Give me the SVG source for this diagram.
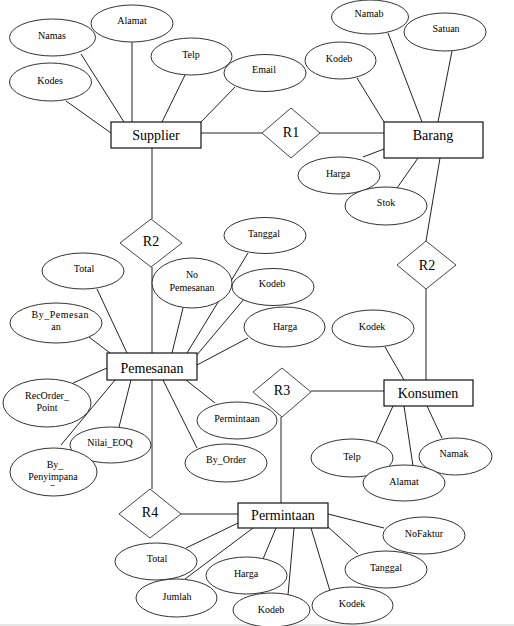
<svg xmlns="http://www.w3.org/2000/svg" width="514" height="626" viewBox="0 0 514 626">
<style>
.ln{stroke:#222;stroke-width:1;fill:none}
.at{fill:#fff;stroke:#333;stroke-width:1}
.en{fill:#fff;stroke:#111;stroke-width:1.2}
.rl{fill:#fff;stroke:#444;stroke-width:1}
.ta{font-family:"Liberation Serif","Times New Roman",serif;font-size:10px;fill:#000;text-anchor:middle}
.te{font-family:"Liberation Serif","Times New Roman",serif;font-size:14px;fill:#000;text-anchor:middle}
</style>
<defs>
<clipPath id="cp"><rect x="0" y="440" width="120" height="46"/></clipPath>
</defs>
<rect x="0" y="0" width="514" height="626" fill="#fff"/>
<rect x="0" y="624" width="514" height="2" fill="#e6e6e6"/>
<g id="connectors">
<line class="ln" x1="81" y1="54" x2="124" y2="122"/>
<line class="ln" x1="132" y1="42" x2="132" y2="122"/>
<line class="ln" x1="66" y1="101" x2="111" y2="133"/>
<line class="ln" x1="185" y1="75" x2="162" y2="122"/>
<line class="ln" x1="235" y1="87" x2="201" y2="122"/>
<line class="ln" x1="201" y1="133" x2="262" y2="133"/>
<line class="ln" x1="320" y1="133" x2="384" y2="133"/>
<line class="ln" x1="152" y1="148" x2="152" y2="219"/>
<line class="ln" x1="152" y1="267" x2="152" y2="353"/>
<line class="ln" x1="357" y1="78" x2="384" y2="122"/>
<line class="ln" x1="388" y1="33" x2="422" y2="122"/>
<line class="ln" x1="452" y1="51" x2="438" y2="122"/>
<line class="ln" x1="363" y1="157" x2="384" y2="149"/>
<line class="ln" x1="397" y1="188" x2="418" y2="158"/>
<line class="ln" x1="440" y1="158" x2="426" y2="241"/>
<line class="ln" x1="426" y1="289" x2="426" y2="380"/>
<line class="ln" x1="385" y1="347" x2="404" y2="380"/>
<line class="ln" x1="376" y1="443" x2="393" y2="406"/>
<line class="ln" x1="413" y1="466" x2="404" y2="406"/>
<line class="ln" x1="442" y1="438" x2="427" y2="406"/>
<line class="ln" x1="311" y1="391" x2="384" y2="391"/>
<line class="ln" x1="281" y1="417" x2="281" y2="503"/>
<line class="ln" x1="97" y1="289" x2="127" y2="353"/>
<line class="ln" x1="89" y1="337" x2="110" y2="353"/>
<line class="ln" x1="183" y1="308" x2="172" y2="353"/>
<line class="ln" x1="248" y1="253" x2="187" y2="353"/>
<line class="ln" x1="244" y1="299" x2="196" y2="356"/>
<line class="ln" x1="248" y1="338" x2="197" y2="365"/>
<line class="ln" x1="73" y1="383" x2="107" y2="368"/>
<line class="ln" x1="119" y1="427" x2="131" y2="380"/>
<line class="ln" x1="61" y1="445" x2="115" y2="380"/>
<line class="ln" x1="215" y1="403" x2="186" y2="380"/>
<line class="ln" x1="197" y1="448" x2="163" y2="380"/>
<line class="ln" x1="152" y1="380" x2="152" y2="489"/>
<line class="ln" x1="181" y1="514" x2="238" y2="514"/>
<line class="ln" x1="186" y1="548" x2="238" y2="523"/>
<line class="ln" x1="185" y1="579" x2="253" y2="528"/>
<line class="ln" x1="263" y1="559" x2="276" y2="528"/>
<line class="ln" x1="288" y1="595" x2="294" y2="528"/>
<line class="ln" x1="330" y1="591" x2="311" y2="528"/>
<line class="ln" x1="358" y1="554" x2="328" y2="527"/>
<line class="ln" x1="328" y1="514" x2="384" y2="528"/>
</g>
<g id="supplier"><rect class="en" x="111" y="122" width="90" height="26"/><text class="te" x="156" y="140">Supplier</text></g>
<g id="barang"><rect class="en" x="384" y="122" width="99" height="36"/><text class="te" x="433" y="140">Barang</text></g>
<g id="konsumen"><rect class="en" x="384" y="380" width="89" height="26"/><text class="te" x="428" y="398">Konsumen</text></g>
<g id="pemesanan"><rect class="en" x="107" y="353" width="90" height="27"/><text class="te" x="152" y="373">Pemesanan</text></g>
<g id="permintaan"><rect class="en" x="238" y="503" width="90" height="25"/><text class="te" x="283" y="520">Permintaan</text></g>
<g id="r1"><polygon class="rl" points="291,108 320,133 291,158 262,133"/><text class="te" x="291" y="137">R1</text></g>
<g id="r2a"><polygon class="rl" points="151,219 182,243 151,267 120,243"/><text class="te" x="151" y="246">R2</text></g>
<g id="r2b"><polygon class="rl" points="426,241 456,265 426,289 397,265"/><text class="te" x="427" y="270">R2</text></g>
<g id="r3"><polygon class="rl" points="282,368 311,392 282,417 253,392"/><text class="te" x="282" y="395">R3</text></g>
<g id="r4"><polygon class="rl" points="150,489 181,514 150,538 119,514"/><text class="te" x="150" y="517">R4</text></g>
<g id="s-namas"><ellipse class="at" cx="52.5" cy="37.5" rx="43" ry="18.5"/><text class="ta" x="52" y="39">Namas</text></g>
<g id="s-alamat"><ellipse class="at" cx="132" cy="23.5" rx="41" ry="18.5"/><text class="ta" x="132" y="24">Alamat</text></g>
<g id="s-kodes"><ellipse class="at" cx="50.5" cy="82" rx="41" ry="19"/><text class="ta" x="50" y="83.5">Kodes</text></g>
<g id="s-telp"><ellipse class="at" cx="191.5" cy="56.5" rx="40.5" ry="18.5"/><text class="ta" x="191" y="57.5">Telp</text></g>
<g id="s-email"><ellipse class="at" cx="265" cy="73" rx="41" ry="18.5"/><text class="ta" x="264" y="72.5">Email</text></g>
<g id="b-namab"><ellipse class="at" cx="370" cy="17" rx="38.5" ry="17"/><text class="ta" x="369" y="16.5">Namab</text></g>
<g id="b-satuan"><ellipse class="at" cx="445" cy="32" rx="41" ry="19"/><text class="ta" x="446" y="31.5">Satuan</text></g>
<g id="b-kodeb"><ellipse class="at" cx="340.5" cy="60.5" rx="35.5" ry="18.5"/><text class="ta" x="339" y="61.5">Kodeb</text></g>
<g id="b-harga"><ellipse class="at" cx="339" cy="175.5" rx="41" ry="18.5"/><text class="ta" x="338" y="176.5">Harga</text></g>
<g id="b-stok"><ellipse class="at" cx="386" cy="206" rx="41" ry="19"/><text class="ta" x="386" y="205.5">Stok</text></g>
<g id="p-total"><ellipse class="at" cx="83" cy="271" rx="41" ry="18"/><text class="ta" x="84" y="271.5">Total</text></g>
<g id="p-tanggal"><ellipse class="at" cx="265" cy="235.5" rx="41" ry="18"/><text class="ta" x="264" y="236.5">Tanggal</text></g>
<g id="p-kodeb"><ellipse class="at" cx="273" cy="287" rx="41" ry="18.5"/><text class="ta" x="272" y="286.5">Kodeb</text></g>
<g id="p-nopemesanan"><ellipse class="at" cx="192" cy="283" rx="40" ry="25"/><text class="ta" x="192" y="277.5">No</text><text class="ta" x="192" y="290.5">Pemesanan</text></g>
<g id="p-harga"><ellipse class="at" cx="284.5" cy="327" rx="40.5" ry="20"/><text class="ta" x="285" y="329.5">Harga</text></g>
<g id="p-bypemesanan"><ellipse class="at" cx="56" cy="323" rx="46" ry="20"/><text class="ta" x="60" y="318" textLength="57">By_Pemesan</text><text class="ta" x="56" y="329.5">an</text></g>
<g id="p-recorder"><ellipse class="at" cx="47" cy="403" rx="44" ry="24"/><text class="ta" x="47" y="399">RecOrder_</text><text class="ta" x="47" y="411">Point</text></g>
<g id="p-nilai"><ellipse class="at" cx="110.5" cy="445" rx="40.5" ry="18"/><text class="ta" x="110" y="445.5">Nilai_EOQ</text></g>
<g id="p-bypenyimpanan"><ellipse class="at" cx="53.5" cy="472" rx="43.5" ry="24"/><text class="ta" x="55" y="468">By_</text><text class="ta" x="53" y="479.5">Penyimpana</text><text class="ta" x="53" y="490" clip-path="url(#cp)">n</text></g>
<g id="p-permintaan"><ellipse class="at" cx="237" cy="420.5" rx="40" ry="18.5"/><text class="ta" x="237" y="421.5">Permintaan</text></g>
<g id="p-byorder"><ellipse class="at" cx="226" cy="463" rx="41" ry="19"/><text class="ta" x="226" y="462.5">By_Order</text></g>
<g id="k-kodek"><ellipse class="at" cx="373" cy="328.5" rx="41" ry="18.5"/><text class="ta" x="372" y="329.5">Kodek</text></g>
<g id="k-telp"><ellipse class="at" cx="352" cy="458" rx="41" ry="19"/><text class="ta" x="352" y="459.5">Telp</text></g>
<g id="k-namak"><ellipse class="at" cx="455.5" cy="456.5" rx="36.5" ry="18.5"/><text class="ta" x="454" y="456.5">Namak</text></g>
<g id="k-alamat"><ellipse class="at" cx="404" cy="483" rx="41" ry="18"/><text class="ta" x="404" y="484.5">Alamat</text></g>
<g id="m-nofaktur"><ellipse class="at" cx="424" cy="535.5" rx="41" ry="18.5"/><text class="ta" x="424" y="536.5">NoFaktur</text></g>
<g id="m-tanggal"><ellipse class="at" cx="386" cy="569.5" rx="41" ry="18.5"/><text class="ta" x="386" y="570.5">Tanggal</text></g>
<g id="m-total"><ellipse class="at" cx="156" cy="561.5" rx="41" ry="18.5"/><text class="ta" x="157" y="561.5">Total</text></g>
<g id="m-harga"><ellipse class="at" cx="246.5" cy="575.5" rx="40.5" ry="18.5"/><text class="ta" x="246" y="576.5">Harga</text></g>
<g id="m-jumlah"><ellipse class="at" cx="176.5" cy="598" rx="40.5" ry="19"/><text class="ta" x="177" y="599.5">Jumlah</text></g>
<g id="m-kodek"><ellipse class="at" cx="352.5" cy="605.5" rx="40.5" ry="18.5"/><text class="ta" x="352" y="606.5">Kodek</text></g>
<g id="m-kodeb"><ellipse class="at" cx="271.5" cy="610" rx="38.5" ry="17"/><text class="ta" x="271" y="612.5">Kodeb</text></g>
</svg>
